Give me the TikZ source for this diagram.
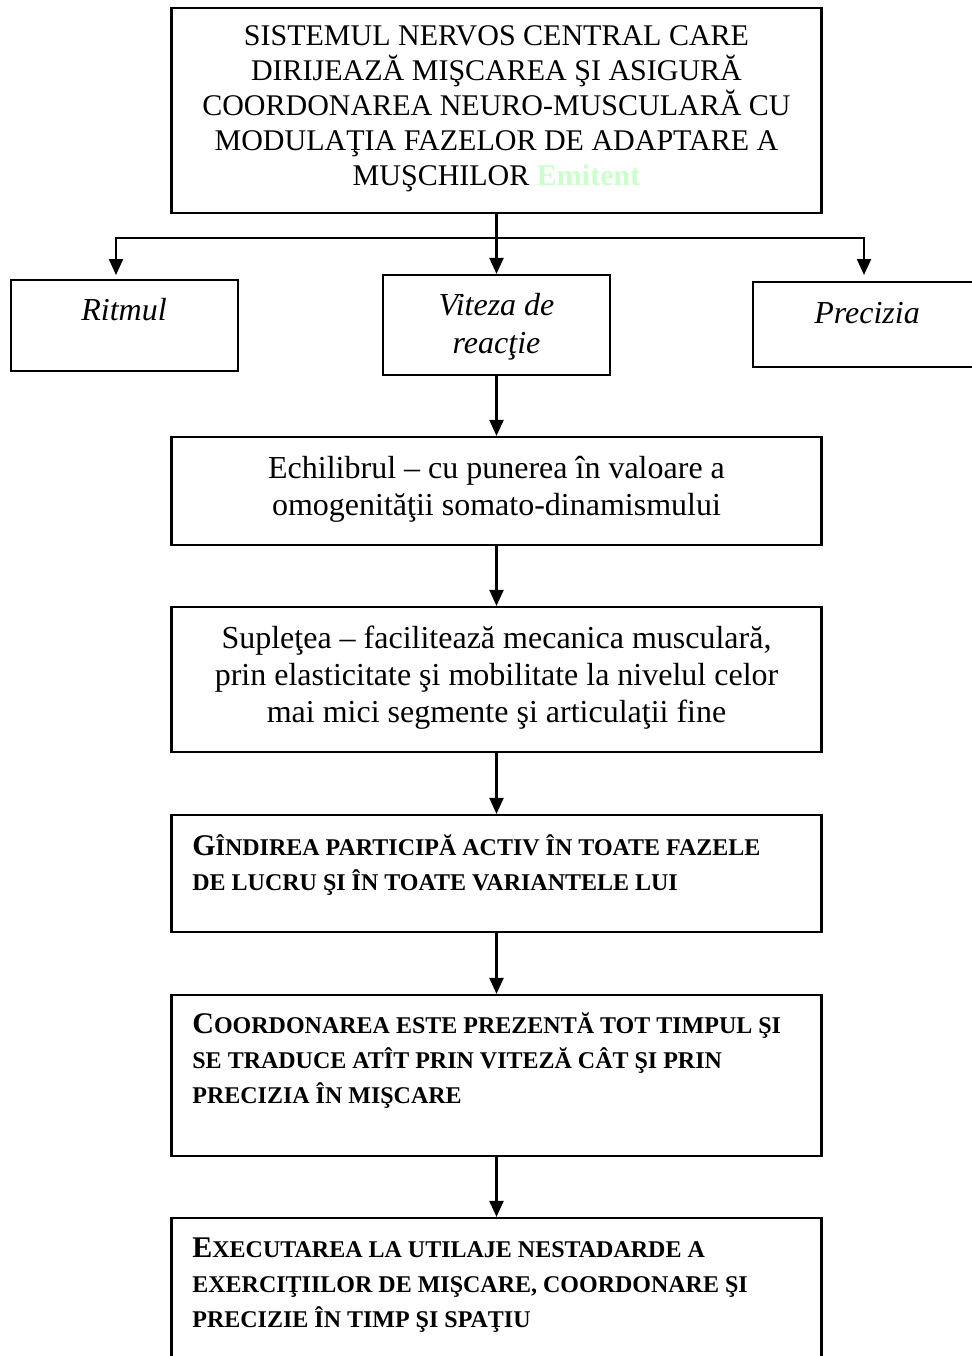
\documentclass[tikz,border=0pt]{standalone}
\usepackage{fontspec}
\setmainfont{Liberation Serif}
\usetikzlibrary{arrows.meta}
\definecolor{emitgreen}{HTML}{CCFFCC}
\newcommand\smc[1]{{\fontsize{12pt}{17.5pt}\selectfont #1}}% fake small caps

\begin{document}
\begin{tikzpicture}[x=0.5pt, y=-0.5pt,
    box/.style={draw, line width=1.1pt, inner sep=0pt},
    mainbox/.style={box, minimum width=325pt},
    sidebox/.style={box, minimum width=113.5pt},
    txt/.style={inner sep=0pt, align=center, font=\fontsize{16pt}{18.5pt}\selectfont},
    ital/.style={inner sep=0pt, align=center, font=\fontsize{16pt}{19pt}\selectfont\itshape},
    caps/.style={inner sep=0pt, align=left, font=\fontsize{15pt}{17.5pt}\selectfont\bfseries},
    arr/.style={line width=1.1pt, -{Triangle[length=8pt,width=7pt]}}]
    \useasboundingbox (0,0) rectangle (972,1356);
    % boxes (coordinates in pixels of the page)
    \node[mainbox, minimum height=102.5pt] (snc) at (496.5,110.5) {};
    \node[sidebox, minimum height=45.5pt] (ritm) at (124.5,325.5) {};
    \node[sidebox, minimum height=50pt] (vit) at (496.5,325) {};
    \node[sidebox, minimum height=42.5pt] (prec) at (866.5,324.5) {};
    \node[mainbox, minimum height=54pt] (echil) at (496.5,491) {};
    \node[mainbox, minimum height=72.5pt] (suple) at (496.5,679.5) {};
    \node[mainbox, minimum height=58.5pt] (gand) at (496.5,873.5) {};
    \node[mainbox, minimum height=80.5pt] (coord) at (496.5,1075.5) {};
    \node[mainbox, minimum height=91pt] (exec) at (496.5,1309) {};
    % texts (anchored at the baseline of their last line)
    \node[txt, font=\fontsize{15pt}{17.5pt}\selectfont, anchor=base] (sncTxt) at (496.5,185)
        {SISTEMUL NERVOS CENTRAL CARE\\ DIRIJEAZĂ MIŞCAREA ŞI ASIGURĂ\\
         COORDONAREA NEURO-MUSCULARĂ CU\\ MODULAŢIA FAZELOR DE ADAPTARE A\\
         MUŞCHILOR {\color{emitgreen}\bfseries Emitent}};
    \node[ital, anchor=base] (ritmTxt) at (124,320) {Ritmul};
    \node[ital, anchor=base] (vitTxt) at (496.5,353) {Viteza de\\ reacţie};
    \node[ital, anchor=base] (precTxt) at (867,323) {Precizia};
    \node[txt, anchor=base] (echilTxt) at (496.5,515)
        {Echilibrul – cu punerea în valoare a\\ omogenităţii somato-dinamismului};
    \node[txt, anchor=base] (supleTxt) at (496.5,722)
        {Supleţea – facilitează mecanica musculară,\\
         prin elasticitate şi mobilitate la nivelul celor\\
         mai mici segmente şi articulaţii fine};
    \node[caps, anchor=base west] (gandTxt) at (192,890)
        {G\smc{ÎNDIREA PARTICIPĂ ACTIV ÎN TOATE FAZELE}\\
         \smc{DE LUCRU ŞI ÎN TOATE VARIANTELE LUI}};
    \node[caps, anchor=base west] (coordTxt) at (192,1103)
        {C\smc{OORDONAREA ESTE PREZENTĂ TOT TIMPUL ŞI}\\
         \smc{SE TRADUCE ATÎT PRIN VITEZĂ CÂT ŞI PRIN}\\
         \smc{PRECIZIA ÎN MIŞCARE}};
    \node[caps, anchor=base west] (execTxt) at (192,1327)
        {E\smc{XECUTAREA LA UTILAJE NESTADARDE A}\\
         \smc{EXERCIŢIILOR DE MIŞCARE, COORDONARE ŞI}\\
         \smc{PRECIZIE ÎN TIMP ŞI SPAŢIU}};
    % connectors
    \coordinate (split) at (496.5,238);
    \coordinate (ritmTip) at (116,275);
    \coordinate (precTip) at (864,275);
    \draw[line width=1.1pt] (snc.south) -- (split);
    \draw[arr] (split) -| (ritmTip);
    \draw[arr] (split) -| (precTip);
    \draw[arr] (split) -- (vit.north);
    \draw[arr] (vit.south) -- (echil.north);
    \draw[arr] (echil.south) -- (suple.north);
    \draw[arr] (suple.south) -- (gand.north);
    \draw[arr] (gand.south) -- (coord.north);
    \draw[arr] (coord.south) -- (exec.north);
\end{tikzpicture}
\end{document}
